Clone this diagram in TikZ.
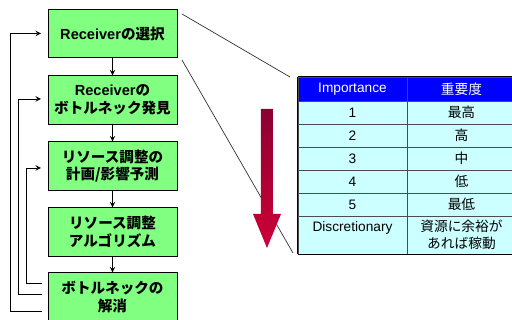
\documentclass[tikz,border=0pt]{standalone}
\usepackage{fontspec}
\setmainfont{Liberation Sans}
\newfontfamily\jp{Noto Sans CJK JP}
\usetikzlibrary{arrows,positioning}
\definecolor{boxgreen}{RGB}{128,255,128}
\definecolor{headblue}{RGB}{0,0,255}
\definecolor{cellcyan}{RGB}{204,255,255}
\definecolor{arrowtop}{RGB}{140,0,50}
\definecolor{arrowbot}{RGB}{205,0,55}

\begin{document}
\begin{tikzpicture}
[x=0.02cm,y=-0.02cm,>=stealth,
 stepbox/.style={draw=black,fill=boxgreen,minimum width=2.58cm,minimum height=0.97cm,inner sep=0pt,align=center,font=\fontsize{8.3}{10}\selectfont\bfseries},
 cell/.style={draw=black!70,fill=cellcyan,minimum width=2.18cm,minimum height=0.46cm,inner sep=0pt,align=center,font=\fontsize{7.8}{10}\selectfont},
 head/.style={cell,fill=headblue,text=white,minimum height=0.48cm},
 link/.style={draw=black!80,thin}]

\clip (0,0) rectangle (512,320);
\fill[white] (0,0) rectangle (512,320);

\node[stepbox] (B1) at (112.5,33.5) {Receiver{\jp の選択}};
\node[stepbox] (B2) at (112.5,100) {Receiver{\jp の}\\{\jp ボトルネック発見}};
\node[stepbox] (B3) at (112.5,166) {\jp リソース調整の\\\jp 計画/影響予測};
\node[stepbox] (B4) at (112.5,232) {\jp リソース調整\\\jp アルゴリズム};
\node[stepbox] (B5) at (112.5,297) {\jp ボトルネックの\\\jp 解消};

\draw [->] (B1) -- (B2);
\draw [->] (B2) -- (B3);
\draw [->] (B3) -- (B4);
\draw [->] (B4) -- (B5);

\coordinate (F1) at (42,311);
\coordinate (F2) at (42,294);
\coordinate (F3) at (42,283);
\coordinate (T1) at (41,33.5);
\coordinate (T2) at (41,99);
\coordinate (T3) at (41,168);

\draw [->] (F1) -- (10,311) |- (T1);
\draw [->] (F2) -- (18,294) |- (T2);
\draw [->] (F3) -- (26,283) |- (T3);

\node[head] (H1) at (352.5,89) {Importance};
\node[head] (H2) at (461.5,89) {\jp 重要度};

\node[cell] (R11) at (352.5,112.5) {1};
\node[cell] (R12) at (461.5,112.5) {\jp 最高};
\node[cell] (R21) at (352.5,135.5) {2};
\node[cell] (R22) at (461.5,135.5) {\jp 高};
\node[cell] (R31) at (352.5,158.5) {3};
\node[cell] (R32) at (461.5,158.5) {\jp 中};
\node[cell] (R41) at (352.5,181.5) {4};
\node[cell] (R42) at (461.5,181.5) {\jp 低};
\node[cell] (R51) at (352.5,204.5) {5};
\node[cell] (R52) at (461.5,204.5) {\jp 最低};
\node[cell,minimum height=0.76cm] (R61) at (352.5,235) {Discretionary\\\mbox{}};
\node[cell,minimum height=0.76cm] (R62) at (461.5,235) {\jp 資源に余裕が\\\jp あれば稼動};

\draw [line width=0.8pt] (H1.north west) -- (H2.north east);
\draw [line width=0.8pt] (H1.north west) -- (R61.south west);
\draw [line width=0.8pt] (R61.south west) -- (R62.south east);

\coordinate (L1) at (182,14);
\coordinate (L2) at (290,77);
\coordinate (L3) at (182,60);
\coordinate (L4) at (293,253);
\draw [link] (L1) -- (L2);
\draw [link] (L3) -- (L4);

\shade [top color=arrowtop,bottom color=arrowbot] (261,109) -- (273,109) -- (273,214) -- (281,214) -- (267,248) -- (253,214) -- (261,214) -- cycle;
\end{tikzpicture}
\end{document}
